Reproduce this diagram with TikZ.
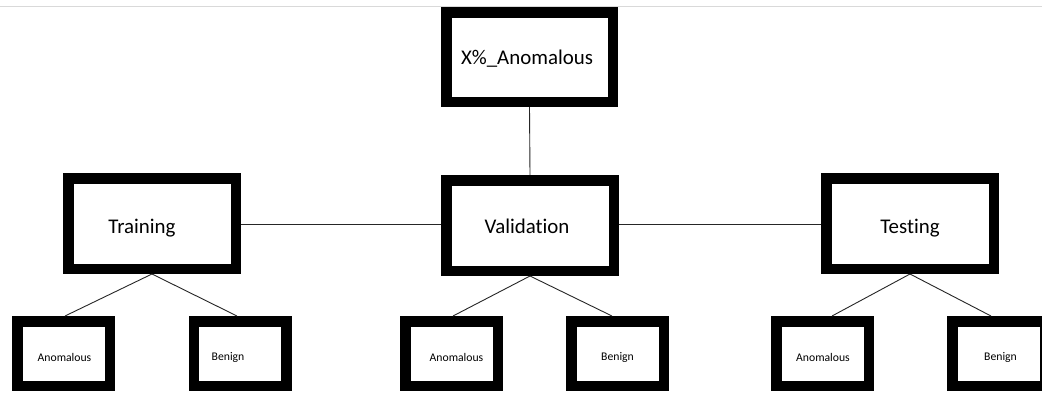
\documentclass[tikz,border=0pt]{standalone}
\usepackage{fontspec}
\setmainfont{Carlito}[Ligatures=NoCommon]
\begin{document}
\begin{tikzpicture}[x=1pt,y=-1pt,
  bigbox/.style={draw=black,line width=10.5pt,fill=white,minimum width=167.5pt,minimum height=90.5pt,inner sep=0pt},
  smallbox/.style={draw=black,line width=10.5pt,fill=white,minimum width=92.5pt,minimum height=64.5pt,inner sep=0pt},
  bigtext/.style={font=\fontsize{20.9}{24}\selectfont},
  smalltext/.style={font=\fontsize{11.7}{14}\selectfont},
  conn/.style={draw=black!85,line width=0.9pt}]
\clip (0,0) rectangle (1042,392);
\fill[white] (0,0) rectangle (1042,392);
\draw[gray!30,line width=0.8pt] (0,6.5) -- (1042,6.5);
% top level
\node[bigbox,minimum width=166.5pt,minimum height=89.5pt,label={[bigtext,shift={(-2.5,2)}]center:X\%\_Anomalous}] (top) at (529.5,57) {};
% middle level
\node[bigbox,label={[bigtext,shift={(-10,5)}]center:Training}] (train) at (152,223.5) {};
\node[bigbox,label={[bigtext,shift={(-3,0.5)}]center:Validation}] (val) at (530,225.5) {};
\node[bigbox,label={[bigtext,shift={(0,5)}]center:Testing}] (test) at (910,223.5) {};
% bottom level
\node[smallbox,label={[smalltext,shift={(1,4)}]center:Anomalous}] (ta) at (63.5,353.5) {};
\node[smallbox,label={[smalltext,shift={(-12,4)}]center:Benign}] (tb) at (240,353.5) {};
\node[smallbox,label={[smalltext,shift={(5,4)}]center:Anomalous}] (va) at (451.5,353.5) {};
\node[smallbox,label={[smalltext,shift={(0,4)}]center:Benign}] (vb) at (617.5,353.5) {};
\node[smallbox,label={[smalltext,shift={(0.5,4)}]center:Anomalous}] (sa) at (822.5,353.5) {};
\node[smallbox,label={[smalltext,shift={(2,4)}]center:Benign}] (sb) at (998.5,353.5) {};
% connectors
\draw[conn] (top.south) -- (val.north);
\draw[conn] (train.east |- 0,224.5) -- (val.west |- 0,224.5);
\draw[conn] (val.east |- 0,224.7) -- (test.west |- 0,224.7);
\draw[conn] (train.south) -- (ta.north -| 65,0);
\draw[conn] (train.south) -- (tb.north -| 237,0);
\draw[conn] (val.south) -- (va.north -| 453,0);
\draw[conn] (val.south) -- (vb.north -| 612,0);
\draw[conn] (test.south) -- (sa.north -| 832,0);
\draw[conn] (test.south) -- (sb.north -| 991,0);
\end{tikzpicture}
\end{document}
